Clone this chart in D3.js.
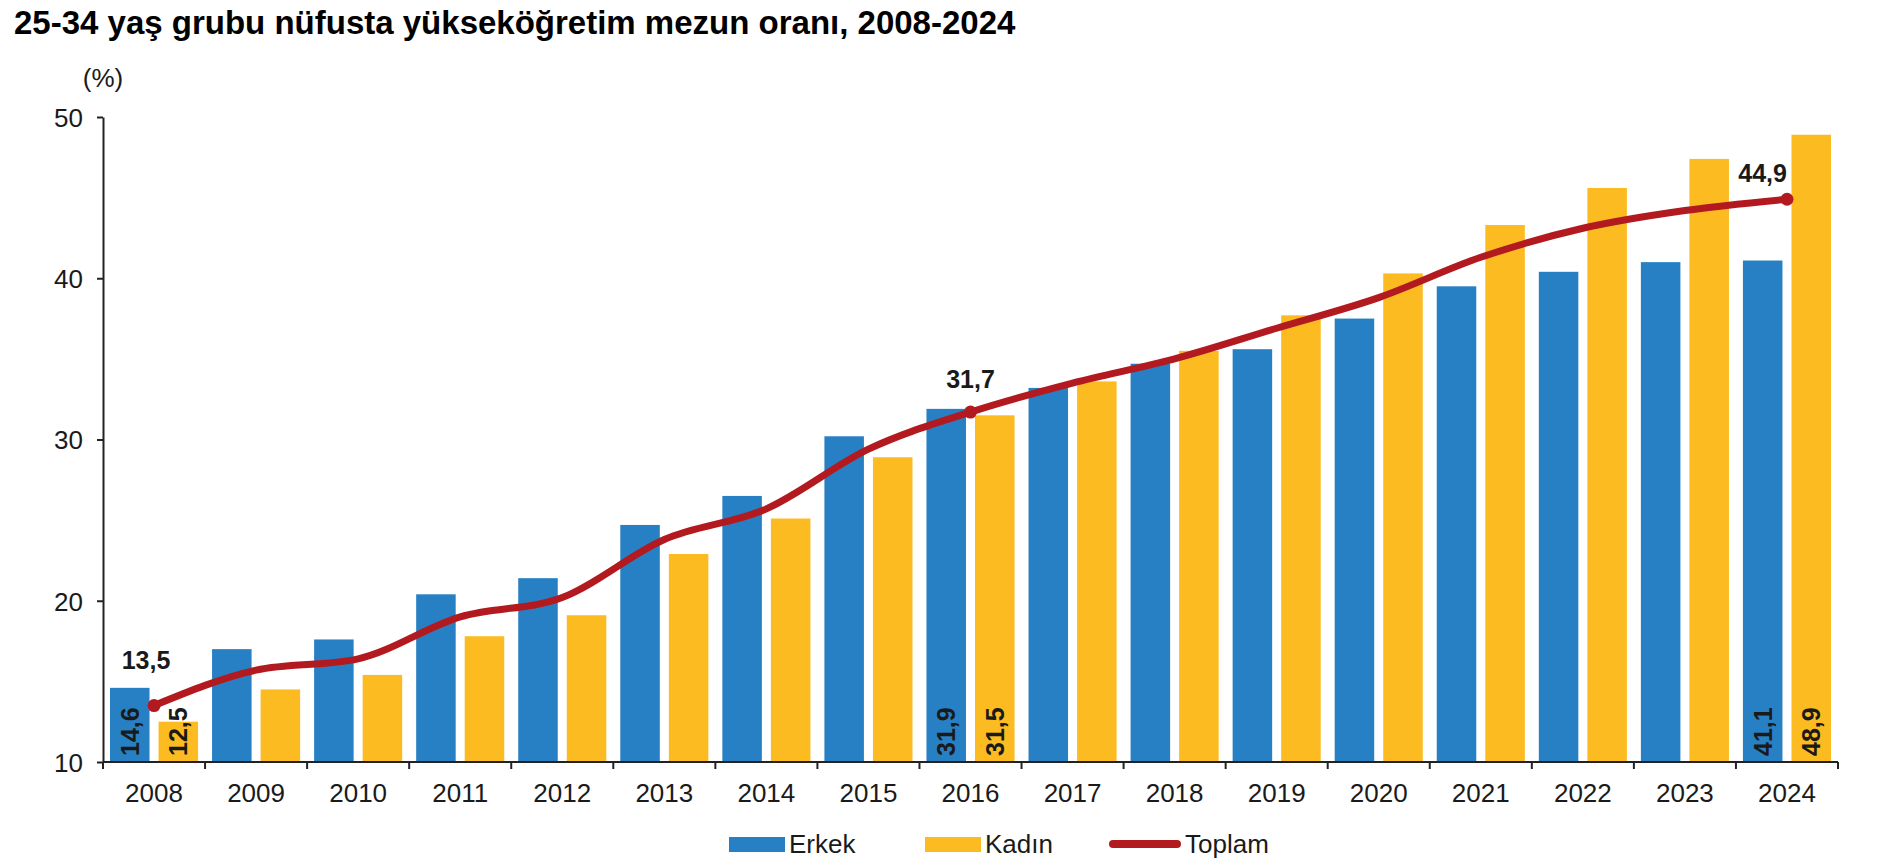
<!DOCTYPE html>
<html>
<head>
<meta charset="utf-8">
<script src="https://cdn.jsdelivr.net/npm/d3@7/dist/d3.min.js"></script>
<style>
  body { margin: 0; background: #fff; }
  text { font-family: "Liberation Sans", Arial, sans-serif; fill: #1a1a1a; }
</style>
</head>
<body>
<div id="chart"></div>
<script>
var years = ["2008","2009","2010","2011","2012","2013","2014","2015","2016","2017","2018","2019","2020","2021","2022","2023","2024"];
var erkek = [14.6, 17.0, 17.6, 20.4, 21.4, 24.7, 26.5, 30.2, 31.9, 33.2, 34.7, 35.6, 37.5, 39.5, 40.4, 41.0, 41.1];
var kadin = [12.5, 14.5, 15.4, 17.8, 19.1, 22.9, 25.1, 28.9, 31.5, 33.6, 35.5, 37.7, 40.3, 43.3, 45.6, 47.4, 48.9];
var toplam = [13.5, 15.7, 16.4, 19.0, 20.2, 23.8, 25.7, 29.4, 31.7, 33.5, 35.0, 36.9, 38.8, 41.3, 43.1, 44.2, 44.9];
var seriesNames = ["Erkek", "Kadın", "Toplam"];
var labeledYears = ["2008", "2016", "2024"];
var yTicks = [10, 20, 30, 40, 50];
var title = "25-34 yaş grubu nüfusta yükseköğretim mezun oranı, 2008-2024";

var width = 1886;
var height = 866;
var colors = ["#2880c4", "#fbbb21", "#b21a20"];

function fmt(v) {
  return v.toFixed(1).replace(".", ",");
}

var svg = d3.select("#chart").append("svg")
  .attr("width", width)
  .attr("height", height);

svg.append("text")
  .attr("x", 14)
  .attr("y", 34)
  .style("font-size", "33px")
  .style("font-weight", "bold")
  .style("fill", "#000")
  .text(title);

/* Scale */
var xScale = d3.scaleBand()
  .domain(years)
  .range([103, 1838])
  .paddingInner(0.137)
  .paddingOuter(0.0685);

var xSub = d3.scaleBand()
  .domain([0, 1])
  .range([0, xScale.bandwidth()])
  .paddingInner(0.186);

var yScale = d3.scaleLinear()
  .domain([10, 50])
  .range([762, 117]);

/* Bars */
var bars = svg.append("g").attr("class", "bars");
[erkek, kadin].forEach(function(vals, s) {
  bars.selectAll(".bar" + s)
    .data(years).enter()
    .append("rect")
    .attr("x", d => xScale(d) + xSub(s))
    .attr("y", (d, i) => yScale(vals[i]))
    .attr("width", xSub.bandwidth())
    .attr("height", (d, i) => yScale(10) - yScale(vals[i]))
    .style("fill", colors[s]);

  // rotated value labels at the bottom of the bars
  bars.selectAll(".barlabel" + s)
    .data(years.filter(d => labeledYears.indexOf(d) >= 0)).enter()
    .append("text")
    .attr("transform", function(d) {
      var cx = xScale(d) + xSub(s) + xSub.bandwidth() / 2 + 9;
      return "translate(" + cx + "," + (yScale(10) - 6) + ") rotate(-90)";
    })
    .style("font-size", "25px")
    .style("font-weight", "bold")
    .text(d => fmt(vals[years.indexOf(d)]));
});

/* Axis */
var yAxis = d3.axisLeft(yScale).tickValues(yTicks).tickSize(6).tickSizeOuter(0);
var gy = svg.append("g")
  .attr("class", "y axis")
  .attr("transform", "translate(103,0)")
  .call(yAxis);
gy.select(".domain").style("stroke", "#222").style("stroke-width", 2);
gy.selectAll(".tick line").style("stroke", "#222").style("stroke-width", 2);
gy.selectAll(".tick text")
  .attr("x", -20)
  .attr("dy", "0.36em")
  .style("font-size", "26px")
  .style("font-family", "\"Liberation Sans\", Arial, sans-serif")
  .style("fill", "#1a1a1a");

svg.append("text")
  .attr("x", 103)
  .attr("y", 87)
  .attr("text-anchor", "middle")
  .style("font-size", "26px")
  .text("(%)");

var gx = svg.append("g").attr("class", "x axis");
gx.append("line")
  .attr("x1", 103).attr("x2", 1838)
  .attr("y1", yScale(10)).attr("y2", yScale(10))
  .style("stroke", "#222").style("stroke-width", 2);
var step = xScale.step();
gx.selectAll(".xtick")
  .data(d3.range(years.length + 1)).enter()
  .append("line")
  .attr("x1", d => 103 + d * step)
  .attr("x2", d => 103 + d * step)
  .attr("y1", yScale(10))
  .attr("y2", yScale(10) + 7)
  .style("stroke", "#222").style("stroke-width", 2);
gx.selectAll(".xlabel")
  .data(years).enter()
  .append("text")
  .attr("x", d => xScale(d) + xScale.bandwidth() / 2)
  .attr("y", 802)
  .attr("text-anchor", "middle")
  .style("font-size", "26px")
  .text(d => d);

/* Line */
var cx = d => xScale(d) + xScale.bandwidth() / 2;
var line = d3.line()
  .x((d, i) => cx(years[i]))
  .y(d => yScale(d))
  .curve(d3.curveMonotoneX);

svg.append("path")
  .attr("d", line(toplam))
  .style("fill", "none")
  .style("stroke", colors[2])
  .style("stroke-width", 7)
  .style("stroke-linejoin", "round");

var marked = labeledYears.map(y => ({ year: y, v: toplam[years.indexOf(y)] }));
svg.selectAll(".dot")
  .data(marked).enter()
  .append("circle")
  .attr("cx", d => cx(d.year))
  .attr("cy", d => yScale(d.v))
  .attr("r", 6.5)
  .style("fill", colors[2]);

// label offsets above the marked points
var labelDy = [-37, -24, -17];
svg.selectAll(".dotlabel")
  .data(marked).enter()
  .append("text")
  .attr("x", (d, i) => cx(d.year) + (i == 0 ? -8 : 0))
  .attr("y", (d, i) => yScale(d.v) + labelDy[i])
  .attr("text-anchor", (d, i) => i == 2 ? "end" : "middle")
  .style("font-size", "25px")
  .style("font-weight", "bold")
  .text(d => fmt(d.v));

/* Legend */
var legend = svg.append("g").attr("class", "legend");
var legX = [729, 925, 1109];
seriesNames.forEach(function(name, i) {
  if (i < 2) {
    legend.append("rect")
      .attr("x", legX[i]).attr("y", 837)
      .attr("width", 56).attr("height", 15)
      .style("fill", colors[i]);
  } else {
    legend.append("line")
      .attr("x1", legX[i] + 4).attr("x2", legX[i] + 68)
      .attr("y1", 844).attr("y2", 844)
      .style("stroke", colors[i])
      .style("stroke-width", 8)
      .style("stroke-linecap", "round");
  }
  legend.append("text")
    .attr("x", legX[i] + (i < 2 ? 60 : 76))
    .attr("y", 853)
    .style("font-size", "26px")
    .text(name);
});
</script>
</body>
</html>
